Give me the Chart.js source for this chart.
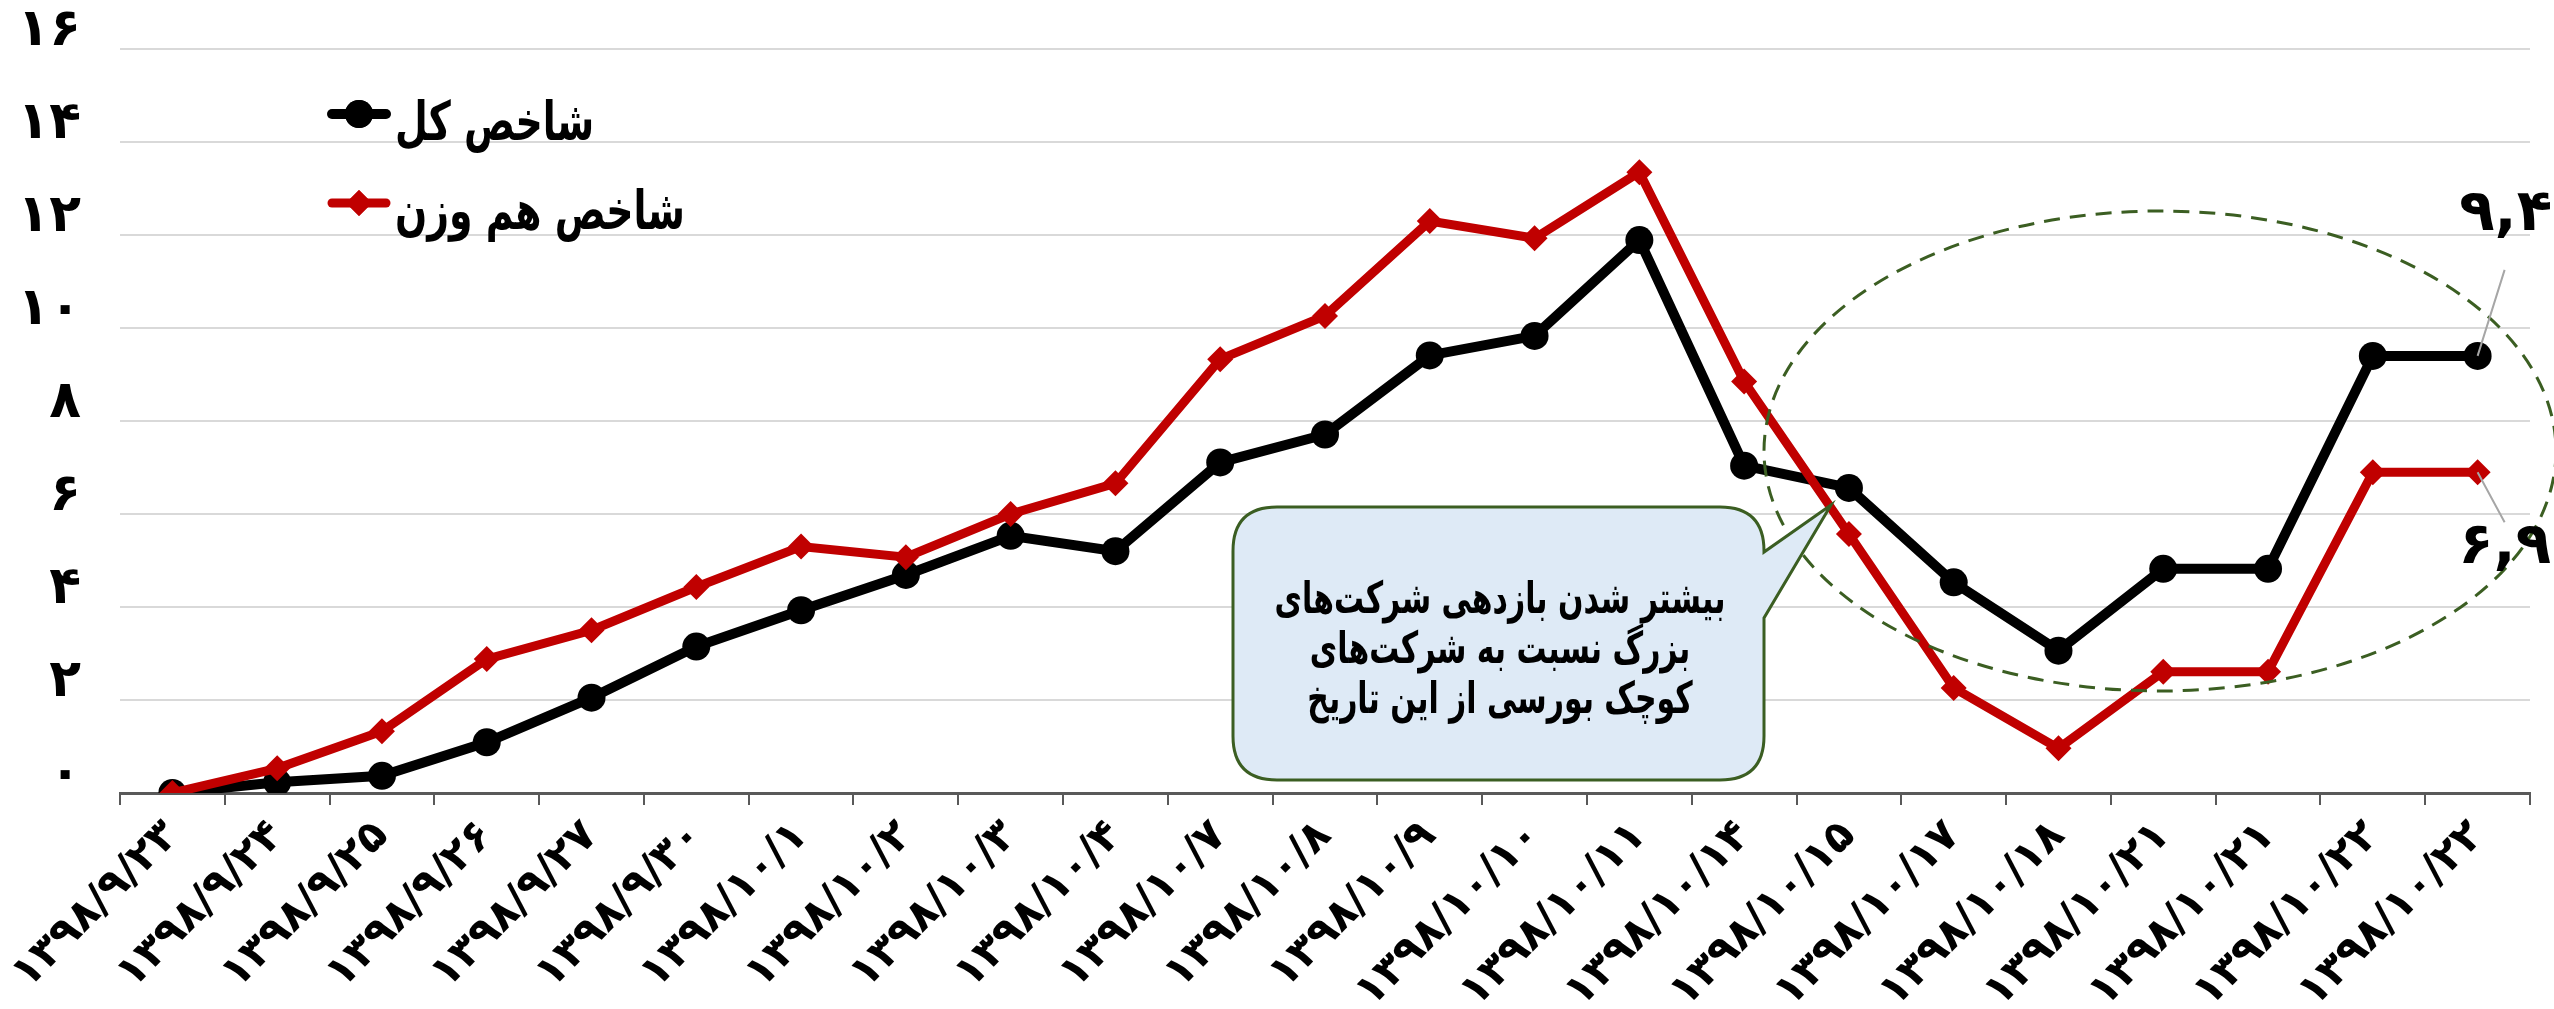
<!DOCTYPE html>
<html lang="fa">
<head>
<meta charset="utf-8">
<title>شاخص کل و شاخص هم وزن</title>
<script src="https://cdn.jsdelivr.net/npm/chart.js@4.4.1/dist/chart.umd.min.js"></script>
<style>
  html, body { margin: 0; padding: 0; background: #fff; }
  #wrap { width: 2554px; height: 1009px; }
</style>
</head>
<body>
<div id="wrap"><canvas id="chart" width="2554" height="1009"></canvas></div>
<script>
// x-axis dates (Persian calendar, as printed on the chart)
const dates = [
  "۱۳۹۸/۹/۲۳", "۱۳۹۸/۹/۲۴", "۱۳۹۸/۹/۲۵", "۱۳۹۸/۹/۲۶", "۱۳۹۸/۹/۲۷", "۱۳۹۸/۹/۳۰",
  "۱۳۹۸/۱۰/۱", "۱۳۹۸/۱۰/۲", "۱۳۹۸/۱۰/۳", "۱۳۹۸/۱۰/۴", "۱۳۹۸/۱۰/۷", "۱۳۹۸/۱۰/۸",
  "۱۳۹۸/۱۰/۹", "۱۳۹۸/۱۰/۱۰", "۱۳۹۸/۱۰/۱۱", "۱۳۹۸/۱۰/۱۴", "۱۳۹۸/۱۰/۱۵", "۱۳۹۸/۱۰/۱۷",
  "۱۳۹۸/۱۰/۱۸", "۱۳۹۸/۱۰/۲۱", "۱۳۹۸/۱۰/۲۱", "۱۳۹۸/۱۰/۲۲", "۱۳۹۸/۱۰/۲۲",
];

// cumulative change (%)
const totalIndex = [0, 0.23, 0.37, 1.09, 2.05, 3.15, 3.93, 4.69, 5.53, 5.2, 7.11, 7.71,
  9.41, 9.83, 11.89, 7.04, 6.56, 4.53, 3.06, 4.82, 4.82, 9.4, 9.4];
const equalWeight = [0, 0.53, 1.33, 2.88, 3.5, 4.43, 5.3, 5.07, 6.0, 6.66, 9.33, 10.26,
  12.3, 11.93, 13.35, 8.85, 5.57, 2.26, 0.96, 2.61, 2.61, 6.9, 6.9];

const seriesNames = ["شاخص کل", "شاخص هم وزن"];
const calloutLines = [
  "بیشتر شدن بازدهی شرکت\u200cهای",
  "بزرگ نسبت به شرکت\u200cهای",
  "کوچک بورسی از این تاریخ",
];

const FONT = "'DejaVu Sans', sans-serif";
const BLACK = "#000000";
const RED = "#C00000";
const GREEN = "#3B5E22";

const FA_DIGITS = "۰۱۲۳۴۵۶۷۸۹";
function toFa(s) {
  return String(s).replace(/\d/g, d => FA_DIGITS[d]);
}
function faValue(v) {
  return toFa(v.toFixed(1)).replace(".", ",");
}

// DejaVu's Arabic is wide compared with the original font, so squeeze it a bit
function squeezedText(ctx, text, x, y, sx) {
  ctx.save();
  ctx.translate(x, y);
  ctx.scale(sx, 1);
  ctx.fillText(text, 0, 0);
  ctx.restore();
}

// legend drawn inside the plot, top-left
const legendPlugin = {
  id: "innerLegend",
  afterDraw(chart) {
    const ctx = chart.ctx;
    const items = [
      { y: 114, color: BLACK, width: 10, style: "circle", r: 14, text: seriesNames[0] },
      { y: 203, color: RED, width: 9, style: "rectRot", r: 13, text: seriesNames[1] },
    ];
    ctx.save();
    items.forEach(it => {
      ctx.strokeStyle = it.color;
      ctx.lineWidth = it.width;
      ctx.lineCap = "round";
      ctx.beginPath();
      ctx.moveTo(332, it.y);
      ctx.lineTo(386, it.y);
      ctx.stroke();
      ctx.fillStyle = it.color;
      Chart.helpers.drawPoint(ctx, { pointStyle: it.style, radius: it.r, rotation: 0, borderWidth: 0 }, 359, it.y);
      ctx.fill();
      ctx.fillStyle = "#000";
      ctx.font = `bold 54px ${FONT}`;
      ctx.direction = "rtl";
      ctx.textAlign = "left";
      ctx.textBaseline = "middle";
      squeezedText(ctx, it.text, 395, it.y + 12, 0.7);
    });
    ctx.restore();
  },
};

// callout box, dashed ellipse, end-point labels
const notesPlugin = {
  id: "notes",
  afterDatasetsDraw(chart) {
    const ctx = chart.ctx;
    const xs = chart.scales.x;
    const ys = chart.scales.y;
    ctx.save();

    // dashed ellipse around the last part of the series
    ctx.strokeStyle = GREEN;
    ctx.lineWidth = 3;
    ctx.setLineDash([16, 10]);
    ctx.beginPath();
    ctx.ellipse(2160, 451, 396, 240, 0, 0, Math.PI * 2);
    ctx.stroke();
    ctx.setLineDash([]);

    // speech-bubble callout
    const L = 1233, R = 1764, T = 507, B = 780, rad = 44;
    ctx.beginPath();
    ctx.moveTo(L + rad, T);
    ctx.lineTo(R - rad, T);
    ctx.quadraticCurveTo(R, T, R, T + rad);
    ctx.lineTo(R, 552);
    ctx.lineTo(1831, 505);
    ctx.lineTo(R, 618);
    ctx.lineTo(R, B - rad);
    ctx.quadraticCurveTo(R, B, R - rad, B);
    ctx.lineTo(L + rad, B);
    ctx.quadraticCurveTo(L, B, L, B - rad);
    ctx.lineTo(L, T + rad);
    ctx.quadraticCurveTo(L, T, L + rad, T);
    ctx.closePath();
    ctx.fillStyle = "#DEEAF6";
    ctx.fill();
    ctx.strokeStyle = GREEN;
    ctx.lineWidth = 3;
    ctx.stroke();

    ctx.fillStyle = "#000";
    ctx.font = `bold 44px ${FONT}`;
    ctx.direction = "rtl";
    ctx.textAlign = "center";
    ctx.textBaseline = "middle";
    calloutLines.forEach((line, i) => {
      squeezedText(ctx, line, 1500, 602 + i * 50, 0.68);
    });

    // labels for the last points
    const last = dates.length - 1;
    const px = xs.getPixelForValue(last);
    const pyK = ys.getPixelForValue(totalIndex[last]);
    const pyH = ys.getPixelForValue(equalWeight[last]);
    ctx.strokeStyle = "#A6A6A6";
    ctx.lineWidth = 2;
    ctx.beginPath();
    ctx.moveTo(px, pyK);
    ctx.lineTo(px + 27, pyK - 86);
    ctx.moveTo(px, pyH);
    ctx.lineTo(px + 27, pyH + 50);
    ctx.stroke();

    ctx.direction = "ltr";
    ctx.font = `bold 58px ${FONT}`;
    ctx.fillText(faValue(totalIndex[last]), px + 28, pyK - 141);
    ctx.fillText(faValue(equalWeight[last]), px + 27, pyH + 76);
    ctx.restore();
  },
};

new Chart(document.getElementById("chart"), {
  type: "line",
  data: {
    labels: dates,
    datasets: [
      {
        label: seriesNames[1],
        data: equalWeight,
        borderColor: RED,
        backgroundColor: RED,
        borderWidth: 9,
        pointStyle: "rectRot",
        pointRadius: 13,
        pointBorderWidth: 0,
        pointBackgroundColor: RED,
        tension: 0,
        order: 0,
      },
      {
        label: seriesNames[0],
        data: totalIndex,
        borderColor: BLACK,
        backgroundColor: BLACK,
        borderWidth: 10,
        pointStyle: "circle",
        pointRadius: 14,
        pointBorderWidth: 0,
        pointBackgroundColor: BLACK,
        tension: 0,
        order: 1,
      },
    ],
  },
  options: {
    responsive: false,
    devicePixelRatio: 1,
    animation: false,
    layout: { padding: { top: 49, right: 24, left: 0, bottom: 0 } },
    plugins: {
      legend: { display: false },
      tooltip: { enabled: false },
    },
    scales: {
      x: {
        offset: true,
        grid: {
          offset: true,
          drawOnChartArea: false,
          drawTicks: true,
          tickLength: 12,
          color: "#595959",
          lineWidth: 2,
        },
        border: { display: true, color: "#595959", width: 3 },
        ticks: {
          autoSkip: false,
          maxRotation: 45,
          minRotation: 45,
          padding: 6,
          color: "#000",
          font: { family: FONT, size: 43, weight: "bold" },
        },
        afterFit(scale) {
          scale.height = 216;
          scale.paddingLeft = 0;
          scale.paddingRight = 0;
        },
      },
      y: {
        min: 0,
        max: 16,
        ticks: {
          stepSize: 2,
          padding: 39,
          labelOffset: -18,
          color: "#000",
          font: { family: FONT, size: 52, weight: "bold" },
          callback: v => toFa(v),
        },
        grid: { color: "#D9D9D9", lineWidth: 2, drawTicks: false },
        border: { display: false },
        afterFit(scale) {
          scale.width = 120;
          scale.paddingTop = 0;
          scale.paddingBottom = 0;
        },
      },
    },
  },
  plugins: [notesPlugin, legendPlugin],
});
</script>
</body>
</html>
